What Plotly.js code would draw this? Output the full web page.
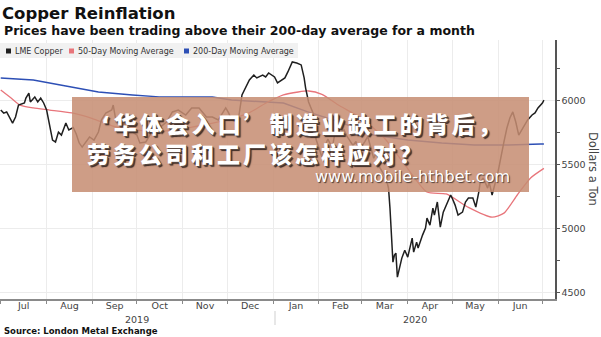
<!DOCTYPE html>
<html>
<head>
<meta charset="utf-8">
<script src="https://cdn.plot.ly/plotly-3.0.1.min.js"></script>
<style>html,body{margin:0;padding:0;background:#fff;}#chart{width:601px;height:337px;}</style>
</head>
<body>
<div id="chart"></div>
<script>
// ---------- data ----------
const copperDates = [
'2019-07-01','2019-07-03','2019-07-05','2019-07-09','2019-07-11','2019-07-13','2019-07-17','2019-07-18','2019-07-20','2019-07-21',
'2019-07-24','2019-07-26','2019-07-28','2019-07-30','2019-08-01','2019-08-04','2019-08-05','2019-08-07','2019-08-09','2019-08-11',
'2019-08-14','2019-08-16','2019-08-19','2019-08-21','2019-08-23','2019-08-25','2019-08-30','2019-09-02','2019-09-05','2019-09-07',
'2019-09-10','2019-09-14','2019-09-15','2019-09-17','2019-09-19','2019-09-21','2019-09-24','2019-09-28','2019-10-01','2019-10-03',
'2019-10-07','2019-10-11','2019-10-16','2019-10-21','2019-10-25','2019-10-29','2019-11-03','2019-11-07','2019-11-12','2019-11-17',
'2019-11-21','2019-11-25','2019-11-30','2019-12-02','2019-12-04','2019-12-07','2019-12-09','2019-12-11','2019-12-14','2019-12-16',
'2019-12-19','2019-12-21','2019-12-25','2019-12-27','2019-12-29','2020-01-02','2020-01-04','2020-01-07','2020-01-09','2020-01-11',
'2020-01-14','2020-01-17','2020-01-20','2020-01-22','2020-01-23','2020-01-25','2020-01-27','2020-01-28','2020-01-30','2020-02-03',
'2020-02-05','2020-02-07','2020-02-10','2020-02-12','2020-02-14','2020-02-18','2020-02-20','2020-02-24','2020-02-26','2020-02-28',
'2020-03-03','2020-03-05','2020-03-09','2020-03-11','2020-03-13','2020-03-16','2020-03-18','2020-03-19','2020-03-20','2020-03-21',
'2020-03-22','2020-03-23','2020-03-24','2020-03-25','2020-03-28','2020-03-30','2020-04-01','2020-04-04','2020-04-05','2020-04-07',
'2020-04-08','2020-04-11','2020-04-13','2020-04-14','2020-04-16','2020-04-18','2020-04-19','2020-04-21','2020-04-22','2020-04-23',
'2020-04-25','2020-04-28','2020-04-30','2020-05-01','2020-05-03','2020-05-05','2020-05-08','2020-05-10','2020-05-12','2020-05-15',
'2020-05-17','2020-05-19','2020-05-20','2020-05-22','2020-05-25','2020-05-26','2020-05-28','2020-06-01','2020-06-03','2020-06-05',
'2020-06-07','2020-06-09','2020-06-11','2020-06-13','2020-06-15','2020-06-17','2020-06-19','2020-06-21','2020-06-24','2020-06-26',
'2020-06-28','2020-07-01','2020-07-02'];
const copperValues = [
5927,5903,5912,5825,5872,5966,5982,6021,6060,5990,
6029,5990,6021,5982,5927,5754,5692,5677,5754,5731,
5825,5771,5790,5740,5669,5637,5716,5692,5755,5849,
5904,5927,5966,5833,5810,5849,5794,5755,5731,5669,
5677,5755,5786,5833,5912,5927,5888,5943,5943,5872,
5872,5849,5943,5904,5849,5833,5888,6045,6123,6162,
6201,6178,6201,6186,6217,6186,6139,6162,6178,6225,
6303,6295,6280,6178,6099,5990,5927,5904,5700,5560,
5640,5700,5630,5760,5730,5770,5720,5650,5680,5610,
5680,5720,5550,5600,5480,5420,5362,5317,5158,4948,
4736,4791,4807,4619,4768,4830,4776,4925,4815,4893,
4847,4948,5003,5081,5026,5159,5105,5207,5128,5011,
5128,5207,5262,5238,5183,5105,5128,5207,5238,5238,
5168,5285,5363,5395,5316,5363,5262,5442,5575,5677,
5786,5865,5912,5833,5731,5771,5810,5849,5888,5904,
5943,5982,6005];

const ma50Dates = ['2019-07-01','2019-07-08','2019-07-14','2019-07-23','2019-08-03','2019-08-18','2019-09-01','2019-09-15',
'2019-10-01','2019-10-15','2019-11-01','2019-11-15','2019-12-01','2019-12-15','2019-12-27','2020-01-08','2020-01-18',
'2020-01-25','2020-02-03','2020-02-15','2020-03-01','2020-03-16','2020-03-30','2020-04-14','2020-04-27','2020-05-12',
'2020-05-28','2020-06-05','2020-06-14','2020-06-23','2020-07-02'];
const ma50Values = [6084,6021,5966,5943,5927,5904,5860,5800,
5770,5760,5780,5810,5850,5900,5980,6045,6068,
6076,6050,5960,5860,5710,5500,5285,5270,5165,
5088,5120,5262,5395,5470];

const ma200Dates = ['2019-07-01','2019-07-23','2019-08-14','2019-09-05','2019-09-28','2019-10-16','2019-11-21','2019-12-04',
'2020-01-08','2020-01-24','2020-02-15','2020-03-09','2020-04-01','2020-04-24','2020-05-16','2020-06-08','2020-06-30','2020-07-02'];
const ma200Values = [6178,6162,6115,6068,6045,6030,6029,6005,
5982,5914,5833,5731,5692,5669,5653,5653,5661,5661];

const legendNames = ['LME Copper','50-Day Moving Average','200-Day Moving Average'];
const lineColors = ['#1f1f1f','#e8757b','#2d4fb5'];
const yearLabels = ['2019','2020'];

// ---------- layout helpers (pixel -> paper) ----------
const W=601,H=337,ML=0,MR=46,MT=40,MB=38;
const PW=W-ML-MR, PH=H-MT-MB;
const px=x=>(x-ML)/PW;
const py=y=>(H-MB-y)/PH;

const traces=[
 {x:ma200Dates,y:ma200Values,mode:'lines',line:{color:lineColors[2],width:1.4},showlegend:false,hoverinfo:'skip'},
 {x:ma50Dates,y:ma50Values,mode:'lines',line:{color:lineColors[1],width:1.3,shape:'spline',smoothing:0.6},showlegend:false,hoverinfo:'skip'},
 {x:copperDates,y:copperValues,mode:'lines',line:{color:lineColors[0],width:1.5},showlegend:false,hoverinfo:'skip'}
];

const gridC='#ececec';
const shapes=[
 {type:'rect',xref:'paper',yref:'paper',x0:px(0),x1:px(298),y0:py(58),y1:py(43),fillcolor:'#f1f1f1',line:{width:0},layer:'above'},
 {type:'rect',xref:'paper',yref:'paper',x0:px(6),x1:px(11),y0:py(53.5),y1:py(48.5),fillcolor:lineColors[0],line:{width:0},layer:'above'},
 {type:'rect',xref:'paper',yref:'paper',x0:px(69),x1:px(74),y0:py(53.5),y1:py(48.5),fillcolor:lineColors[1],line:{width:0},layer:'above'},
 {type:'rect',xref:'paper',yref:'paper',x0:px(184),x1:px(189),y0:py(53.5),y1:py(48.5),fillcolor:lineColors[2],line:{width:0},layer:'above'},
 {type:'line',xref:'paper',yref:'paper',x0:px(275),x1:px(275),y0:py(311),y1:py(325),line:{color:'#cfcfcf',width:1}},
 {type:'rect',xref:'paper',yref:'paper',x0:px(72),x1:px(529),y0:py(192),y1:py(97),fillcolor:'rgba(198,141,114,0.86)',line:{width:0},layer:'above'}
];

const legFont={family:'DejaVu Sans',size:8,color:'#333'};
const cjkFont={family:'Noto Sans CJK SC',size:23,color:'#ffffff',weight:900,shadow:'1px 1px 0px #5a4a44, 2px 2px 1px #3a2a24'};
const tickFont={family:'DejaVu Sans',size:9.5,color:'#444'};
const bannerText =
 '<span style="font-family:DejaVu Sans;letter-spacing:6px">\u00a0</span>' +
 '<span style="font-family:DejaVu Sans;letter-spacing:4px">‘</span>' +
 '<span style="letter-spacing:3px">华体会入口’制造业缺工的背后，</span>' +
 '<br><span style="letter-spacing:3px">劳务公司和工厂该怎样应对？</span>';
const annotations=[
 {xref:'paper',yref:'paper',x:px(2),y:py(30),xanchor:'left',yanchor:'middle',showarrow:false,
  text:'<b>Prices have been trading above their 200-day average for a month</b>',font:{family:'DejaVu Sans',size:12.5,color:'#111'}},
 {xref:'paper',yref:'paper',x:px(13),y:py(51),xanchor:'left',yanchor:'middle',showarrow:false,text:legendNames[0],font:legFont},
 {xref:'paper',yref:'paper',x:px(76),y:py(51),xanchor:'left',yanchor:'middle',showarrow:false,text:legendNames[1],font:legFont},
 {xref:'paper',yref:'paper',x:px(191),y:py(51),xanchor:'left',yanchor:'middle',showarrow:false,text:legendNames[2],font:legFont},
 {xref:'paper',yref:'paper',x:px(137),y:py(319),xanchor:'center',yanchor:'middle',showarrow:false,text:yearLabels[0],font:tickFont},
 {xref:'paper',yref:'paper',x:px(415),y:py(319),xanchor:'center',yanchor:'middle',showarrow:false,text:yearLabels[1],font:tickFont},
 {xref:'paper',yref:'paper',x:px(593),y:py(169),xanchor:'center',yanchor:'middle',showarrow:false,textangle:90,text:'Dollars a Ton',font:{family:'DejaVu Sans',size:11.5,color:'#444'}},
 {xref:'paper',yref:'paper',x:px(2),y:py(331),xanchor:'left',yanchor:'middle',showarrow:false,
  text:'<b>Source: London Metal Exchange</b>',font:{family:'DejaVu Sans',size:8.5,color:'#111'}},
 {xref:'paper',yref:'paper',x:px(85),y:py(138),xanchor:'left',yanchor:'middle',align:'left',showarrow:false,
  text:bannerText,font:cjkFont},
 {xref:'paper',yref:'paper',x:px(313),y:py(176),xanchor:'left',yanchor:'middle',showarrow:false,text:'www.mobile-hthbet.com',
  font:{family:'DejaVu Sans',size:16,color:'#ffffff',shadow:'1px 1px 1px #4a3a34'}}
];

const layout={
 width:W,height:H,margin:{l:ML,r:MR,t:MT,b:MB},
 paper_bgcolor:'#ffffff',plot_bgcolor:'#ffffff',
 title:{text:'<b>Copper Reinflation</b>',font:{family:'DejaVu Sans',size:16.5,color:'#111'},
  xref:'container',yref:'container',x:2/W,y:1-13/H,xanchor:'left',yanchor:'middle'},
 xaxis:{type:'date',range:['2019-06-30 12:00','2020-07-09 12:00'],dtick:'M1',tick0:'2019-07-01',ticklabelmode:'period',
  tickformat:'%b',showgrid:true,gridcolor:gridC,gridwidth:1,showline:true,linecolor:'#8a8a8a',linewidth:1.5,
  ticks:'outside',ticklen:3,tickcolor:'#8a8a8a',ticklabelstandoff:-6,tickfont:tickFont,zeroline:false,fixedrange:true},
 yaxis:{side:'right',range:[4448,6475],tick0:4500,dtick:500,tickformat:'d',showgrid:true,gridcolor:gridC,gridwidth:1,
  showline:true,linecolor:'#555',linewidth:1.5,ticks:'outside',ticklen:3,tickcolor:'#555',
  minor:{dtick:250,tick0:4500,ticks:'outside',ticklen:3,tickcolor:'#555',showgrid:false},
  tickfont:tickFont,zeroline:false,fixedrange:true},
 shapes:shapes,annotations:annotations,showlegend:false
};
Plotly.newPlot('chart',traces,layout,{staticPlot:true,displayModeBar:false});
</script>
</body>
</html>
